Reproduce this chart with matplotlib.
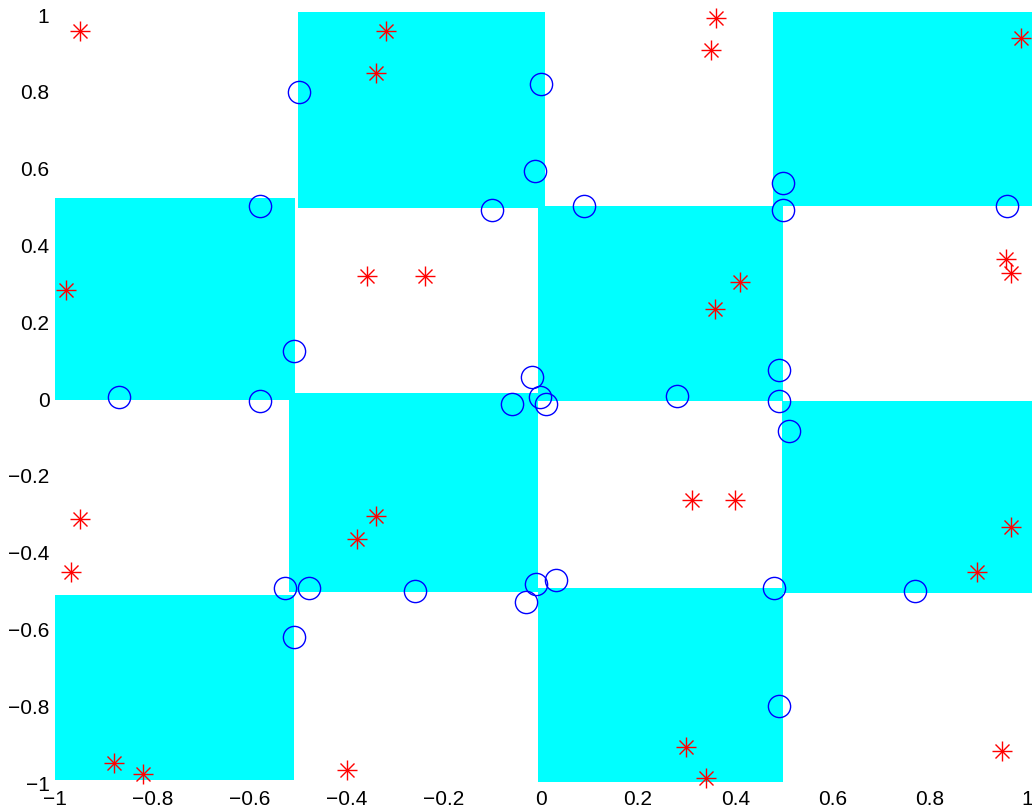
import matplotlib
matplotlib.use("Agg")
import matplotlib.pyplot as plt
from matplotlib.patches import Rectangle
import numpy as np

plt.rcParams['font.family'] = ['Liberation Sans', 'DejaVu Sans']

# cyan decision regions (x0, x1, y0, y1)
region_x0 = [-0.50, 0.477, -1.00, -0.006, -0.518, 0.496, -1.00, -0.006]
region_x1 = [0.008, 1.010, -0.506, 0.498, -0.006, 1.010, -0.508, 0.498]
region_y0 = [0.494, 0.500, -0.005, -0.008, -0.504, -0.507, -0.995, -1.00]
region_y1 = [1.005, 1.005, 0.520, 0.500, 0.013, -0.008, -0.512, -0.494]

# red class (asterisks)
red_x = [-0.949, -0.319, -0.340, 0.360, 0.350, 0.988, -0.977, -0.358, -0.239,
         0.409, 0.358, 0.957, 0.967, -0.949, -0.967, -0.340, -0.379, 0.311,
         0.399, 0.967, 0.897, -0.879, -0.819, -0.399, 0.298, 0.340, 0.949]
red_y = [0.956, 0.956, 0.847, 0.990, 0.906, 0.938, 0.281, 0.319, 0.319,
         0.301, 0.231, 0.361, 0.325, -0.314, -0.452, -0.306, -0.366, -0.265,
         -0.265, -0.335, -0.452, -0.951, -0.979, -0.969, -0.909, -0.990, -0.919]

# blue class (circles)
blue_x = [-0.498, 0.000, -0.012, -0.578, -0.101, 0.088, 0.499, 0.499, 0.959,
          -0.508, -0.868, -0.578, -0.019, -0.060, -0.002, 0.010, 0.280, 0.489,
          0.489, 0.510, -0.527, -0.478, -0.259, -0.508, -0.030, -0.010, 0.031,
          0.479, 0.769, 0.489]
blue_y = [0.797, 0.818, 0.590, 0.501, 0.491, 0.499, 0.560, 0.489, 0.501,
          0.122, 0.003, -0.008, 0.055, -0.016, 0.003, -0.016, 0.005, 0.073,
          -0.007, -0.086, -0.494, -0.494, -0.503, -0.621, -0.532, -0.485, -0.474,
          -0.494, -0.503, -0.801]

tick_vals = np.arange(-1, 1.01, 0.2)
tick_text = ['\u22121', '\u22120.8', '\u22120.6', '\u22120.4', '\u22120.2', '0',
             '0.2', '0.4', '0.6', '0.8', '1']

fig = plt.figure(figsize=(10.32, 8.12), dpi=100)
ax = fig.add_axes([0.0533, 0.0355, 0.9417, 0.946])

for x0, x1, y0, y1 in zip(region_x0, region_x1, region_y0, region_y1):
    ax.add_patch(Rectangle((x0, y0), x1 - x0, y1 - y0, facecolor='#00ffff',
                           edgecolor='none', clip_on=False, zorder=1))

ax.plot(blue_x, blue_y, 'o', mfc='none', mec='#0000ff', ms=16, mew=1.0,
        clip_on=False, zorder=3)
ax.plot(red_x, red_y, '+', color='#ff0000', ms=15, mew=1.0, clip_on=False, zorder=4)
ax.plot(red_x, red_y, 'x', color='#ff0000', ms=10, mew=1.0, clip_on=False, zorder=4)

ax.set_xlim(-1, 1)
ax.set_ylim(-1, 1)
ax.set_xticks(tick_vals)
ax.set_yticks(tick_vals)
ax.set_xticklabels(tick_text)
ax.set_yticklabels(tick_text)
ax.tick_params(length=0, labelsize=15)
ax.tick_params(axis='x', pad=5)
ax.tick_params(axis='y', pad=4)
for s in ax.spines.values():
    s.set_visible(False)

fig.savefig('out.png', dpi=100)
